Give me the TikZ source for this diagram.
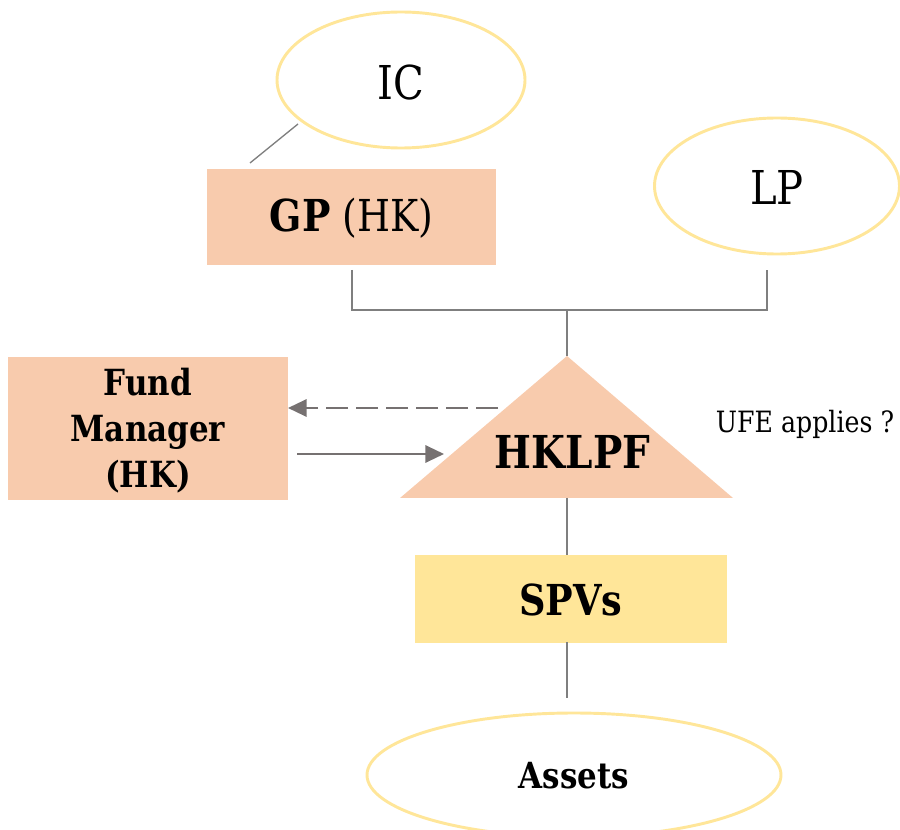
\documentclass[tikz,border=0pt]{standalone}
\usepackage{fontspec}
\setmainfont[FakeStretch=0.86]{DejaVu Serif}
\usetikzlibrary{shapes.geometric,arrows.meta}
\definecolor{peach}{HTML}{F8CBAD}
\definecolor{sand}{HTML}{FFE699}
\definecolor{wire}{HTML}{7F7F7F}
\definecolor{arrowgray}{HTML}{767171}
\tikzset{
  oval/.style={ellipse, draw=sand, line width=2.2pt, fill=white, inner sep=0pt},
  peachbox/.style={rectangle, fill=peach, inner sep=0pt},
  sandbox/.style={rectangle, fill=sand, inner sep=0pt},
  wireline/.style={draw=wire, line width=1pt},
  flow/.style={draw=arrowgray, line width=1.6pt, -{Triangle[length=14pt,width=13pt]}},
  lbl/.style={inner sep=0pt, align=center}
}
\begin{document}
\begin{tikzpicture}[x=0.75pt,y=-0.75pt]
\useasboundingbox (0,0) rectangle (900,830);
\clip (0,0) rectangle (900,830);

% ovals
\node[oval, minimum width=248*0.75pt, minimum height=136*0.75pt] (ic) at (401,80) {};
\node[lbl, font=\fontsize{35}{40}\selectfont] at (401,83) {IC};
\node[oval, minimum width=245*0.75pt, minimum height=136*0.75pt] (lp) at (777,186) {};
\node[lbl, font=\fontsize{35}{40}\selectfont] at (777,187) {LP};
\node[oval, minimum width=414*0.75pt, minimum height=124*0.75pt] (assets) at (574,775) {};
\node[lbl, font=\bfseries\fontsize{27}{32}\selectfont] at (574,776) {Assets};

% boxes
\node[peachbox, minimum width=289*0.75pt, minimum height=96*0.75pt] (gp) at (351.5,217) {};
\node[lbl, font=\fontsize{33}{38}\selectfont] at (351.5,218) {\textbf{GP} (HK)};
\node[peachbox, minimum width=280*0.75pt, minimum height=143*0.75pt] (fm) at (148,428.5) {};
\node[lbl, font=\bfseries\fontsize{27}{34.5}\selectfont] at (148,431) {Fund\\Manager\\(HK)};
\node[sandbox, minimum width=312*0.75pt, minimum height=88*0.75pt] (spv) at (571,599) {};
\node[lbl, font=\bfseries\fontsize{32}{38}\selectfont] at (571,600) {SPVs};

% fund triangle
\coordinate (apex) at (567,356);
\coordinate (baseL) at (400,498);
\coordinate (baseR) at (733,498);
\coordinate (baseM) at (567,498);
\fill[peach] (apex) -- (baseR) -- (baseL) -- cycle;
\node[lbl, font=\bfseries\fontsize{34}{40}\selectfont] (fund) at (572.5,452) {HKLPF};
\node[lbl, font=\fontsize{22}{27}\selectfont] (ufe) at (805,424) {UFE applies ?};

% connectors
\coordinate (icfoot) at (298,124);
\coordinate (gptop) at (250,163);
\draw[wireline] (icfoot) -- (gptop);

\coordinate (gpdrop) at (352,270);
\coordinate (lpdrop) at (767,270);
\coordinate (gpjoin) at (352,310);
\coordinate (lpjoin) at (767,310);
\coordinate (mid) at (567,310);
\draw[wireline] (gpdrop) -- (gpjoin) -- (lpjoin) -- (lpdrop);
\draw[wireline] (mid) -- (apex);

\coordinate (spvtop) at (567,555);
\coordinate (spvbot) at (567,642);
\coordinate (assetstop) at (567,698);
\draw[wireline] (baseM) -- (spvtop);
\draw[wireline] (spvbot) -- (assetstop);

% reporting flows
\coordinate (dashstart) at (498,408);
\coordinate (dashend) at (288,408);
\draw[flow, dash pattern=on 16.5pt off 6pt] (dashstart) -- (dashend);
\coordinate (solidstart) at (297,454);
\coordinate (solidend) at (444,454);
\draw[flow] (solidstart) -- (solidend);
\end{tikzpicture}
\end{document}
